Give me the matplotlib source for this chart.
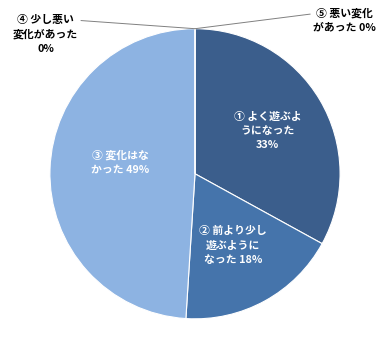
import numpy as np
import matplotlib.pyplot as plt

plt.rcParams['font.family'] = ['Noto Sans CJK JP', 'DejaVu Sans']

# data
labels = ['① よく遊ぶよ\nうになった\n33%',
          '② 前より少し\n遊ぶように\nなった 18%',
          '③ 変化はな\nかった 49%',
          '④ 少し悪い\n変化があった\n0%',
          '⑤ 悪い変化\nがあった 0%']
values = [33, 18, 49, 0, 0]
colors = ['#3b5e8c', '#4574ab', '#8db3e2', '#c0504d', '#9bbb59']

fig = plt.figure(figsize=(3.9, 3.5), dpi=100)
ax = fig.add_axes([0.5 - 0.372, 0.503 - 0.414, 0.744, 0.829])

wedges, _ = ax.pie(values, colors=colors, startangle=90, counterclock=False,
                   radius=1.0, wedgeprops=dict(edgecolor='white', linewidth=0.8))
ax.set_xlim(-1, 1)
ax.set_ylim(-1, 1)
ax.set_aspect('equal')
ax.axis('off')

# inside labels
inside_r = [0.58, 0.56, 0.52]
angle_adj = [0, -1, -7]
for i in range(3):
    w = wedges[i]
    mid = np.deg2rad((w.theta1 + w.theta2) / 2 + angle_adj[i])
    ax.text(inside_r[i] * np.cos(mid), inside_r[i] * np.sin(mid), labels[i],
            ha='center', va='center', color='white', fontsize=7.8,
            fontweight='bold', linespacing=1.55)

# outside labels for zero slices
ax.annotate(labels[3], xy=(0, 1.0), xytext=(-1.03, 0.96),
            ha='center', va='center', fontsize=7.8, fontweight='bold',
            linespacing=1.55, annotation_clip=False,
            arrowprops=dict(arrowstyle='-', color='#808080', lw=0.7,
                            relpos=(0.97, 0.86), shrinkA=0, shrinkB=0))
ax.annotate(labels[4], xy=(0, 1.0), xytext=(1.03, 1.06),
            ha='center', va='center', fontsize=7.8, fontweight='bold',
            linespacing=1.55, annotation_clip=False,
            arrowprops=dict(arrowstyle='-', color='#808080', lw=0.7,
                            relpos=(0.0, 0.75), shrinkA=0, shrinkB=0))

fig.savefig('out.png', dpi=100)
